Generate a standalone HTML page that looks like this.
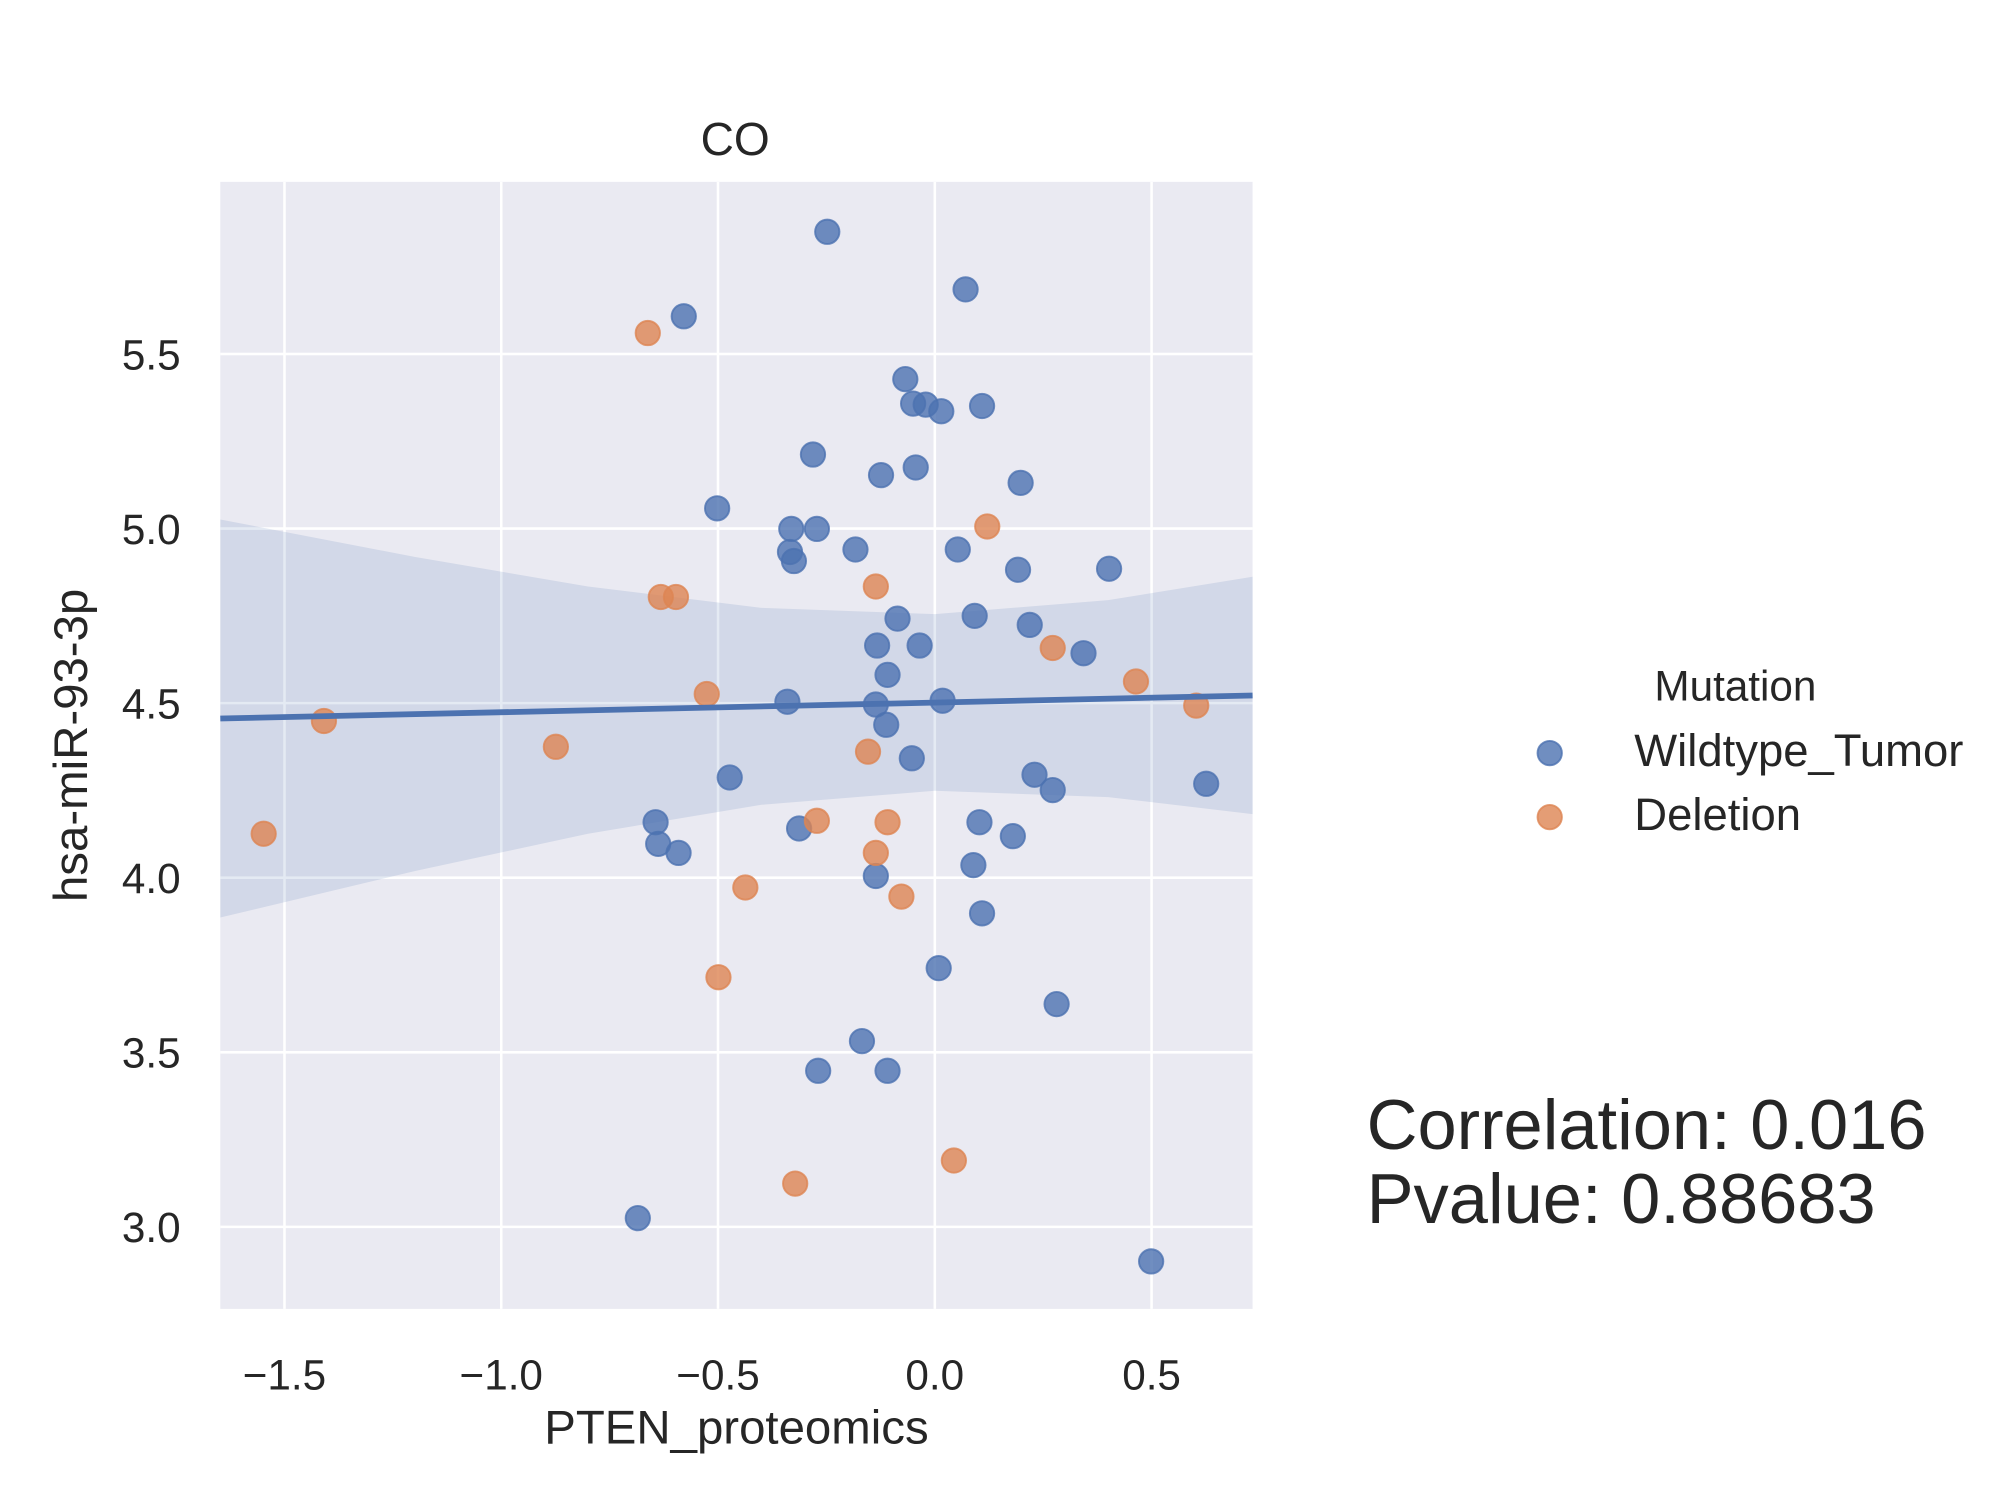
<!DOCTYPE html>
<html><head><meta charset="utf-8"><style>
html,body{margin:0;padding:0;background:#fff;}
svg{display:block;font-family:"Liberation Sans",Arial,sans-serif;}
</style></head><body>
<svg id="chart" width="1998" height="1500" viewBox="0 0 1560 1171.2" xmlns="http://www.w3.org/2000/svg">
<rect x="172" y="142" width="806" height="880" fill="#eaeaf2"/>
<g id="grid"></g>
<g id="band"></g>
<g id="pts"></g>
<g id="axes"></g>
<text x="574" y="121" text-anchor="middle" font-size="36" fill="#262626">CO</text>
<text x="575" y="1127" text-anchor="middle" font-size="37" fill="#262626">PTEN_proteomics</text>
<text transform="translate(68,582) rotate(-90)" text-anchor="middle" font-size="37" fill="#262626">hsa-miR-93-3p</text>
<g>
<text x="1355" y="547" text-anchor="middle" font-size="33" fill="#262626">Mutation</text>
<circle cx="1210" cy="588" r="9.5" fill="#4c72b0" fill-opacity="0.8" stroke="#4c72b0" stroke-opacity="0.8" stroke-width="1.5"/>
<text x="1276" y="598" font-size="35.5" fill="#262626">Wildtype_Tumor</text>
<circle cx="1210" cy="638" r="9.5" fill="#dd8452" fill-opacity="0.8" stroke="#dd8452" stroke-opacity="0.8" stroke-width="1.5"/>
<text x="1276" y="648" font-size="35.5" fill="#262626">Deletion</text>
</g>
<text x="1067" y="897" font-size="55" fill="#262626">Correlation: 0.016</text>
<text x="1067" y="955" font-size="55" fill="#262626">Pvalue: 0.88683</text>
</svg>
<script>
const xTicks=[-1.5,-1.0,-0.5,0.0,0.5];
const xTickLabels=["\u22121.5","\u22121.0","\u22120.5","0.0","0.5"];
const yTicks=[3.0,3.5,4.0,4.5,5.0,5.5];
const yTickLabels=["3.0","3.5","4.0","4.5","5.0","5.5"];
const wildX=[-0.248,0.071,-0.579,-0.068,-0.050,-0.021,0.015,0.109,-0.281,-0.124,-0.044,0.198,-0.502,-0.331,-0.272,-0.334,-0.325,-0.183,0.053,0.192,0.402,-0.086,0.092,0.219,-0.133,-0.035,0.343,-0.109,-0.340,-0.136,0.018,-0.112,-0.053,-0.473,0.230,0.272,0.626,-0.644,-0.638,-0.591,-0.313,0.103,0.180,0.089,-0.136,0.109,0.009,0.281,-0.168,-0.269,-0.109,-0.685,0.499];
const wildY=[5.85,5.685,5.608,5.428,5.358,5.355,5.336,5.351,5.212,5.153,5.175,5.131,5.058,4.999,4.999,4.933,4.907,4.940,4.940,4.882,4.885,4.742,4.750,4.724,4.665,4.665,4.643,4.581,4.504,4.496,4.507,4.438,4.342,4.287,4.295,4.251,4.269,4.159,4.097,4.071,4.141,4.159,4.119,4.036,4.005,3.898,3.741,3.638,3.532,3.447,3.447,3.025,2.901];
const delX=[-0.662,0.121,-0.632,-0.597,-0.136,0.272,0.464,0.603,-0.526,-1.409,-0.874,-0.154,-1.548,-0.272,-0.109,-0.136,-0.437,-0.077,-0.499,0.044,-0.322];
const delY=[5.560,5.006,4.804,4.804,4.834,4.658,4.562,4.493,4.526,4.449,4.375,4.361,4.126,4.163,4.159,4.071,3.972,3.946,3.715,3.190,3.124];
const ciX=[-1.648,-1.2,-0.8,-0.4,0,0.4,0.733];
const ciLow=[3.886,4.019,4.126,4.209,4.249,4.231,4.182];
const ciHigh=[5.026,4.919,4.834,4.773,4.755,4.795,4.862];
const regX=[-1.648,0.733];
const regY=[4.456,4.522];

const NS="http://www.w3.org/2000/svg";
const X0=172,X1=978,Y0=142,Y1=1022;
const xMin=-1.648,xMax=0.733,yMin=2.765,yMax=5.993;
const sx=v=>X0+(v-xMin)/(xMax-xMin)*(X1-X0);
const sy=v=>Y1-(v-yMin)/(yMax-yMin)*(Y1-Y0);
function mk(tag,parent,attrs){const e=document.createElementNS(NS,tag);for(const k in attrs)e.setAttribute(k,attrs[k]);parent.appendChild(e);return e;}
const grid=document.getElementById('grid'),axes=document.getElementById('axes'),band=document.getElementById('band'),pts=document.getElementById('pts');
xTicks.forEach((t,i)=>{
  const l=mk('line',grid,{x1:sx(t),x2:sx(t),y1:Y0,y2:Y1,stroke:'#fff','stroke-width':2});
  
  
  const tx=mk('text',axes,{x:sx(t),y:1085,'text-anchor':'middle','font-size':33,fill:'#262626'});
  tx.textContent=xTickLabels[i];
  
  
});
yTicks.forEach((t,i)=>{
  const l=mk('line',grid,{x1:X0,x2:X1,y1:sy(t),y2:sy(t),stroke:'#fff','stroke-width':2});
  
  
  const tx=mk('text',axes,{x:141,y:sy(t)+12,'text-anchor':'end','font-size':33,fill:'#262626'});
  tx.textContent=yTickLabels[i];
  
  
});
let d='M'+ciX.map((x,i)=>sx(x)+','+sy(ciHigh[i])).join('L');
for(let i=ciX.length-1;i>=0;i--)d+='L'+sx(ciX[i])+','+sy(ciLow[i]);
const bp=mk('path',band,{d:d+'Z',fill:'#4c72b0','fill-opacity':0.15});


function dots(xs,ys,col,name){xs.forEach((x,i)=>{
  const c=mk('circle',pts,{cx:sx(x),cy:sy(ys[i]),r:9.5,fill:col,'fill-opacity':0.8,stroke:col,'stroke-opacity':0.8,'stroke-width':1.5});
  
  
});}
dots(wildX,wildY,'#4c72b0','point-wildtype');
dots(delX,delY,'#dd8452','point-deletion');
const rl=mk('line',pts,{x1:sx(regX[0]),y1:sy(regY[0]),x2:sx(regX[1]),y2:sy(regY[1]),stroke:'#4c72b0','stroke-width':4.5});


</script>
</body></html>
